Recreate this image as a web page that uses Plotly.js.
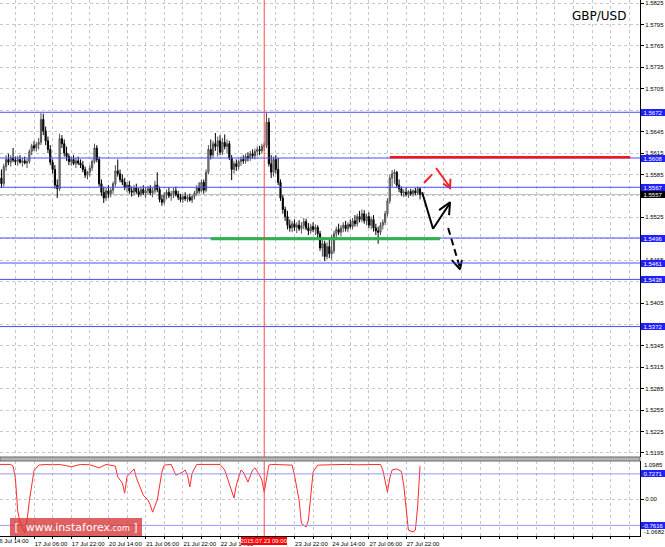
<!DOCTYPE html>
<html><head><meta charset="utf-8">
<script src="https://cdn.plot.ly/plotly-3.0.1.min.js"></script>
<style>html,body{margin:0;padding:0;background:#fff;}</style>
</head><body><div id="chart" style="width:665px;height:547px;"></div>
<script>
// ---- H1 candles, bar 0 = 16 Jul 14:00 ----
const opens = [
1.5575,1.5580,1.5572,1.5596,1.5606,1.5602,1.5608,1.5605,1.5603,1.5606,
1.5602,1.5604,1.5601,1.5603,1.5617,1.5625,1.5622,1.5627,1.5630,1.5662,
1.5646,1.5632,1.5620,1.5602,1.5592,1.5570,1.5565,1.5635,1.5628,1.5615,
1.5610,1.5603,1.5606,1.5600,1.5604,1.5601,1.5598,1.5592,1.5584,1.5588,
1.5594,1.5603,1.5622,1.5606,1.5572,1.5560,1.5552,1.5562,1.5558,1.5563,
1.5572,1.5590,1.5586,1.5578,1.5574,1.5567,1.5570,1.5562,1.5560,1.5566,
1.5561,1.5557,1.5564,1.5559,1.5562,1.5565,1.5559,1.5562,1.5570,1.5564,
1.5550,1.5546,1.5556,1.5560,1.5555,1.5558,1.5562,1.5557,1.5553,1.5550,
1.5554,1.5551,1.5553,1.5549,1.5554,1.5559,1.5566,1.5562,1.5574,1.5563,
1.5588,1.5620,1.5612,1.5628,1.5624,1.5632,1.5616,1.5630,1.5624,1.5628,
1.5608,1.5592,1.5600,1.5596,1.5603,1.5606,1.5604,1.5610,1.5608,1.5614,
1.5611,1.5617,1.5620,1.5618,1.5624,1.5626,1.5658,1.5600,1.5588,1.5606,
1.5592,1.5574,1.5552,1.5536,1.5526,1.5514,1.5510,1.5516,1.5511,1.5514,
1.5509,1.5513,1.5519,1.5510,1.5506,1.5512,1.5508,1.5511,1.5502,1.5482,
1.5488,1.5470,1.5484,1.5474,1.5478,1.5502,1.5508,1.5504,1.5510,1.5514,
1.5509,1.5515,1.5512,1.5520,1.5516,1.5526,1.5522,1.5530,1.5520,1.5526,
1.5514,1.5522,1.5510,1.5506,1.5504,1.5514,1.5518,1.5530,1.5548,1.5580,
1.5586,1.5588,1.5570,1.5565,1.5559,1.5560,1.5557,1.5561,1.5558,1.5562,
1.5559,1.5565];
const highs = [
1.5590,1.5592,1.5600,1.5612,1.5614,1.5612,1.5622,1.5610,1.5611,1.5612,
1.5608,1.5610,1.5607,1.5620,1.5628,1.5632,1.5630,1.5636,1.5671,1.5670,
1.5652,1.5638,1.5626,1.5606,1.5598,1.5578,1.5642,1.5640,1.5634,1.5624,
1.5614,1.5610,1.5612,1.5608,1.5610,1.5606,1.5604,1.5596,1.5590,1.5598,
1.5606,1.5628,1.5626,1.5610,1.5578,1.5568,1.5566,1.5570,1.5566,1.5575,
1.5598,1.5606,1.5592,1.5585,1.5580,1.5574,1.5576,1.5568,1.5570,1.5572,
1.5566,1.5568,1.5570,1.5567,1.5569,1.5570,1.5566,1.5576,1.5588,1.5568,
1.5556,1.5560,1.5564,1.5567,1.5562,1.5566,1.5568,1.5562,1.5558,1.5557,
1.5560,1.5556,1.5558,1.5556,1.5562,1.5570,1.5574,1.5578,1.5578,1.5592,
1.5626,1.5634,1.5632,1.5643,1.5638,1.5640,1.5636,1.5641,1.5634,1.5632,
1.5612,1.5604,1.5606,1.5606,1.5610,1.5612,1.5614,1.5616,1.5618,1.5620,
1.5621,1.5624,1.5625,1.5628,1.5630,1.5671,1.5664,1.5612,1.5610,1.5612,
1.5608,1.5578,1.5556,1.5540,1.5534,1.5522,1.5520,1.5522,1.5518,1.5521,
1.5518,1.5524,1.5523,1.5517,1.5516,1.5518,1.5515,1.5514,1.5506,1.5494,
1.5492,1.5490,1.5495,1.5500,1.5506,1.5512,1.5516,1.5514,1.5518,1.5520,
1.5518,1.5522,1.5524,1.5528,1.5530,1.5534,1.5536,1.5535,1.5530,1.5532,
1.5526,1.5528,1.5516,1.5512,1.5518,1.5522,1.5534,1.5552,1.5585,1.5591,
1.5592,1.5590,1.5578,1.5568,1.5564,1.5566,1.5563,1.5565,1.5564,1.5566,
1.5568,1.5567];
const lows = [
1.5565,1.5566,1.5568,1.5590,1.5598,1.5596,1.5602,1.5598,1.5597,1.5600,
1.5596,1.5599,1.5594,1.5600,1.5612,1.5618,1.5617,1.5620,1.5626,1.5640,
1.5626,1.5615,1.5598,1.5586,1.5565,1.5552,1.5562,1.5622,1.5610,1.5604,
1.5598,1.5597,1.5598,1.5594,1.5598,1.5594,1.5588,1.5580,1.5578,1.5582,
1.5590,1.5600,1.5602,1.5568,1.5555,1.5545,1.5548,1.5552,1.5553,1.5558,
1.5568,1.5582,1.5574,1.5570,1.5563,1.5560,1.5558,1.5554,1.5556,1.5558,
1.5553,1.5554,1.5556,1.5552,1.5557,1.5556,1.5553,1.5558,1.5560,1.5546,
1.5541,1.5543,1.5550,1.5552,1.5548,1.5552,1.5554,1.5549,1.5546,1.5545,
1.5548,1.5546,1.5547,1.5545,1.5550,1.5555,1.5558,1.5560,1.5558,1.5560,
1.5585,1.5606,1.5608,1.5618,1.5610,1.5612,1.5612,1.5620,1.5614,1.5605,
1.5577,1.5586,1.5590,1.5592,1.5597,1.5600,1.5600,1.5603,1.5604,1.5607,
1.5606,1.5611,1.5612,1.5614,1.5618,1.5622,1.5596,1.5580,1.5582,1.5586,
1.5570,1.5548,1.5530,1.5520,1.5508,1.5505,1.5504,1.5506,1.5503,1.5506,
1.5502,1.5508,1.5507,1.5500,1.5502,1.5504,1.5500,1.5496,1.5478,1.5470,
1.5464,1.5466,1.5468,1.5466,1.5474,1.5496,1.5500,1.5498,1.5504,1.5505,
1.5504,1.5509,1.5508,1.5512,1.5512,1.5518,1.5518,1.5516,1.5514,1.5510,
1.5508,1.5505,1.5500,1.5488,1.5500,1.5508,1.5514,1.5526,1.5544,1.5568,
1.5572,1.5566,1.5560,1.5555,1.5553,1.5554,1.5552,1.5555,1.5554,1.5556,
1.5556,1.5550];
const closes = [
1.5580,1.5572,1.5596,1.5606,1.5602,1.5608,1.5605,1.5603,1.5606,1.5602,
1.5604,1.5601,1.5603,1.5617,1.5625,1.5622,1.5627,1.5630,1.5662,1.5646,
1.5632,1.5620,1.5602,1.5592,1.5570,1.5565,1.5635,1.5628,1.5615,1.5610,
1.5603,1.5606,1.5600,1.5604,1.5601,1.5598,1.5592,1.5584,1.5588,1.5594,
1.5603,1.5622,1.5606,1.5572,1.5560,1.5552,1.5562,1.5558,1.5563,1.5572,
1.5590,1.5586,1.5578,1.5574,1.5567,1.5570,1.5562,1.5560,1.5566,1.5561,
1.5557,1.5564,1.5559,1.5562,1.5565,1.5559,1.5562,1.5570,1.5564,1.5550,
1.5546,1.5556,1.5560,1.5555,1.5558,1.5562,1.5557,1.5553,1.5550,1.5554,
1.5551,1.5553,1.5549,1.5554,1.5559,1.5566,1.5562,1.5574,1.5563,1.5588,
1.5620,1.5612,1.5628,1.5624,1.5632,1.5616,1.5630,1.5624,1.5628,1.5608,
1.5592,1.5600,1.5596,1.5603,1.5606,1.5604,1.5610,1.5608,1.5614,1.5611,
1.5617,1.5620,1.5618,1.5624,1.5626,1.5658,1.5600,1.5588,1.5606,1.5592,
1.5574,1.5552,1.5536,1.5526,1.5514,1.5510,1.5516,1.5511,1.5514,1.5509,
1.5513,1.5519,1.5510,1.5506,1.5512,1.5508,1.5511,1.5502,1.5482,1.5488,
1.5470,1.5484,1.5474,1.5478,1.5502,1.5508,1.5504,1.5510,1.5514,1.5509,
1.5515,1.5512,1.5520,1.5516,1.5526,1.5522,1.5530,1.5520,1.5526,1.5514,
1.5522,1.5510,1.5506,1.5504,1.5514,1.5518,1.5530,1.5548,1.5580,1.5586,
1.5588,1.5570,1.5565,1.5559,1.5560,1.5557,1.5561,1.5558,1.5562,1.5559,
1.5565,1.5557];

// indicator (lower pane)
const indicatorBars = [1,6,7,8,9,10,12,13,14,16,18,21,24,27,30,32,36,40,44,47,51,52,54,55,56,59,60,63,65,66,67,69,71,72,75,77,80,81,82,83,84,86,90,96,98,100,102,103,105,106,108,110,111,113,114,115,117,118,122,127,128,130,131,133,134,135,136,138,145,150,155,160,165,166,168,169,170,172,174,175,176,177,179,180,181,182];
const indicatorValues = [1.00,1.00,0.95,0.60,-0.35,-0.68,-0.98,-0.62,-0.05,0.82,0.98,1.00,0.99,1.00,0.96,0.93,1.00,0.99,0.90,1.00,0.95,0.64,0.46,0.17,0.65,0.87,0.62,0.11,-0.03,-0.17,-0.38,-0.03,0.78,0.98,1.00,0.69,0.78,0.84,0.69,0.35,0.75,1.00,1.00,1.00,0.84,0.40,0.03,0.40,0.84,0.78,0.49,0.84,0.90,0.69,0.55,0.20,0.98,1.00,0.99,0.98,0.69,-0.03,-0.70,-0.81,-0.61,0.11,0.78,0.98,1.00,1.00,0.99,1.00,1.00,0.84,0.20,0.61,0.84,0.87,0.80,0.40,-0.30,-0.90,-0.95,-0.90,-0.20,0.95];
const indicatorLevels = [0.7271, -0.7616];
const indicatorMax = 1.0985, indicatorMin = -1.0682;

// levels / labels
const levelPrices = [1.5672, 1.5608, 1.5567, 1.5496, 1.5461, 1.5438, 1.5372];
const bidPrice = 1.5557;
const priceTicks = [1.5195,1.5225,1.5255,1.5285,1.5315,1.5345,1.5375,1.5405,1.5435,1.5465,1.5495,1.5525,1.5555,1.5585,1.5615,1.5645,1.5675,1.5705,1.5735,1.5765,1.5795,1.5825];
const hiddenPriceTicks = [1.5435,1.5495,1.5555,1.5675]; // fully covered by level boxes
const timeLabelBars = [0,16,32,48,64,80,96,112,128,144,160,176];
const timeLabels = ["16 Jul 14:00","17 Jul 06:00","17 Jul 22:00","20 Jul 14:00","21 Jul 06:00","21 Jul 22:00","22 Jul 14:00","23 Jul 06:00","23 Jul 22:00","24 Jul 14:00","27 Jul 06:00","27 Jul 22:00"];
const hiddenTimeBars = [112]; // covered by the red time marker box
const markerBar = 115, markerLabel = "2015.07.23 09:00";
const redLineBars = [169, 272.4], redLinePrice = 1.5609;
const greenLineBars = [92, 190.6], greenLinePrice = 1.5495;
// hand-drawn forecast arrows
const redArrowX = [183.7,187.2,null,188.9,194.9], redArrowY = [1.5573,1.5585,null,1.5594,1.5567];
const redHeadX = [191.9,194.9,195.1], redHeadY = [1.5572,1.5566,1.5579];
const blackArrowX = [182.9,187.6,194.9], blackArrowY = [1.5560,1.5509,1.5545];
const blackHeadX = [190.2,194.9,194.5], blackHeadY = [1.5535,1.5546,1.5528];
const dashArrowX = [194.1,199.2], dashArrowY = [1.5510,1.5454];
const dashHeadX = [195.7,199.2,200.0], dashHeadY = [1.5465,1.5452,1.5465];

const barIndex = opens.map((_, k) => k + 1);
const gridBars = [];
for (let b = 0; b <= 272; b += 8) gridBars.push(b);
const gridText = gridBars.map(b => { const k = timeLabelBars.indexOf(b); return (k > 0 && !hiddenTimeBars.includes(b)) ? timeLabels[k] : ''; });

const FONT = 'Liberation Sans, Arial, sans-serif';
const GRID = '#c8c8c8';
const mainDomain = [0.1474, 1], indDomain = [0, 0.1399];

const noHover = {xaxis:'x', yaxis:'y', hoverinfo:'skip', showlegend:false};
const traces = [
  Object.assign({type:'candlestick', x: barIndex, open: opens, high: highs, low: lows, close: closes,
   increasing:{line:{color:'#505050', width:1}, fillcolor:'#a8a8a8'},
   decreasing:{line:{color:'#000000', width:1}, fillcolor:'#000000'}, whiskerwidth:0}, noHover),
  Object.assign({type:'scatter', mode:'lines', x: redArrowX, y: redArrowY, line:{color:'#ff2020', width:2}, connectgaps:false}, noHover),
  Object.assign({type:'scatter', mode:'lines', x: redHeadX, y: redHeadY, line:{color:'#ff2020', width:2}}, noHover),
  Object.assign({type:'scatter', mode:'lines', x: blackArrowX, y: blackArrowY, line:{color:'#000', width:2}}, noHover),
  Object.assign({type:'scatter', mode:'lines', x: blackHeadX, y: blackHeadY, line:{color:'#000', width:2}}, noHover),
  Object.assign({type:'scatter', mode:'lines', x: dashArrowX, y: dashArrowY, line:{color:'#000', width:2, dash:'7px,4px'}}, noHover),
  Object.assign({type:'scatter', mode:'lines', x: dashHeadX, y: dashHeadY, line:{color:'#000', width:2}}, noHover),
  {type:'scatter', mode:'lines', x: indicatorBars, y: indicatorValues, line:{color:'#ff2a2a', width:1}, xaxis:'x', yaxis:'y2', hoverinfo:'skip', showlegend:false}
];

const shapes = [];
shapes.push({type:'line', xref:'paper', x0:0, x1:1, yref:'y', y0:bidPrice, y1:bidPrice, line:{color:'#c0c0c0', width:1}, layer:'below'});
levelPrices.forEach(p => shapes.push({type:'line', xref:'paper', x0:0, x1:1, yref:'y', y0:p, y1:p, line:{color:'#4a4aff', width:1}, layer:'above'}));
shapes.push({type:'line', xref:'x', x0:greenLineBars[0], x1:greenLineBars[1], yref:'y', y0:greenLinePrice, y1:greenLinePrice, line:{color:'#2db34a', width:3}, layer:'above'});
shapes.push({type:'line', xref:'x', x0:redLineBars[0], x1:redLineBars[1], yref:'y', y0:redLinePrice, y1:redLinePrice, line:{color:'#f01818', width:2.5}, layer:'above'});
indicatorLevels.forEach(v => shapes.push({type:'line', xref:'paper', x0:0, x1:1, yref:'y2', y0:v, y1:v, line:{color:'#9a9af0', width:1}, layer:'above'}));
shapes.push({type:'line', xref:'x', x0:markerBar, x1:markerBar, yref:'paper', y0:mainDomain[0], y1:1, line:{color:'#ff4a4a', width:1}, layer:'above'});
shapes.push({type:'line', xref:'x', x0:markerBar, x1:markerBar, yref:'paper', y0:0, y1:indDomain[1], line:{color:'#ff4a4a', width:1}, layer:'above'});
shapes.push({type:'rect', xref:'paper', x0:0, x1:1, yref:'paper', y0:indDomain[1], y1:mainDomain[0], fillcolor:'#b4b4b4', line:{color:'#6a6a6a', width:1}, layer:'above'});

const annotations = [];
annotations.push({xref:'paper', yref:'paper', x:0.936, y:0.970, text:'GBP/USD', showarrow:false, font:{family:'DejaVu Sans, sans-serif', size:12, color:'#000'}, xanchor:'center', yanchor:'middle'});
function boxLabel(val, yref, bg, txt) {
  return {xref:'paper', x:1, xanchor:'left', xshift:1, yref:yref, y:val, yanchor:'middle', text:txt, showarrow:false,
    bgcolor:bg, font:{family:FONT, size:6, color:'#fff'}, borderpad:0, borderwidth:0, width:24, height:7};
}
levelPrices.forEach(p => annotations.push(boxLabel(p, 'y', '#1f1fff', p.toFixed(4))));
annotations.push(boxLabel(bidPrice, 'y', '#000000', bidPrice.toFixed(4)));
indicatorLevels.forEach(v => annotations.push(boxLabel(v, 'y2', '#1f1fff', v.toFixed(4))));
annotations.push({xref:'paper', x:1, xanchor:'left', xshift:3, yref:'y2', y:indicatorMax, yanchor:'top', text:indicatorMax.toFixed(4), showarrow:false, font:{family:FONT, size:6, color:'#000'}, borderpad:0});
annotations.push({xref:'paper', x:1, xanchor:'left', xshift:3, yref:'y2', y:indicatorMin, yanchor:'bottom', text:indicatorMin.toFixed(4), showarrow:false, font:{family:FONT, size:6, color:'#000'}, borderpad:0});
// first time label sits left of the visible range (partly cut in the reference)
annotations.push({xref:'paper', x:0, xanchor:'left', xshift:-5, yref:'paper', y:0, yanchor:'top', yshift:-1, text:timeLabels[0], showarrow:false, font:{family:FONT, size:6, color:'#000'}, borderpad:0});
annotations.push({xref:'x', x:markerBar, xanchor:'center', yref:'paper', y:0, yanchor:'top', yshift:-1, text:markerLabel, showarrow:false, bgcolor:'#ff0000', font:{family:FONT, size:6, color:'#fff'}, borderpad:0, borderwidth:0, width:46, height:8});
annotations.push({xref:'paper', x:10/640, xanchor:'left', yref:'paper', y:0, yanchor:'bottom', showarrow:false,
  text:"[  www.instaforex<span style='font-size:8px'>.com</span> ]", bgcolor:'rgba(214,52,52,0.78)',
  font:{family:'DejaVu Sans, sans-serif', size:11, color:'#fff'}, borderpad:0, borderwidth:0, width:132, height:18, align:'center'});

const layout = {
  width:665, height:547, margin:{l:0, r:25, t:0, b:11, pad:0},
  paper_bgcolor:'#fff', plot_bgcolor:'#fff', showlegend:false,
  font:{family:FONT, size:6, color:'#000'},
  xaxis:{range:[1.376, 276.6], anchor:'y2', tickmode:'array', tickvals:gridBars, ticktext:gridText, ticks:'outside', ticklen:2, tickcolor:'#000',
    showline:true, linecolor:'#000', linewidth:1, showgrid:true, gridcolor:GRID, griddash:'3px,3px', zeroline:false,
    tickfont:{family:FONT, size:6, color:'#000'}, ticklabelshift:17, tickangle:0, rangeslider:{visible:false}, fixedrange:true},
  yaxis:{domain:mainDomain, range:[1.51894, 1.58292], side:'right', anchor:'x', tickmode:'array', tickvals:priceTicks,
    ticktext:priceTicks.map(v => hiddenPriceTicks.includes(v) ? '' : v.toFixed(4)),
    ticks:'outside', ticklen:3, tickcolor:'#000', showline:true, linecolor:'#000', linewidth:1, showgrid:true, gridcolor:GRID, griddash:'3px,3px',
    zeroline:false, tickfont:{family:FONT, size:6, color:'#000'}, fixedrange:true},
  yaxis2:{domain:indDomain, range:[indicatorMin, indicatorMax], side:'right', anchor:'x', tickmode:'array', tickvals:[0], ticktext:['0.00'],
    ticks:'outside', ticklen:3, tickcolor:'#000', showline:true, linecolor:'#000', linewidth:1, showgrid:true, gridcolor:GRID, griddash:'3px,3px',
    zeroline:false, tickfont:{family:FONT, size:6, color:'#000'}, fixedrange:true},
  shapes: shapes, annotations: annotations
};
Plotly.newPlot('chart', traces, layout, {displayModeBar:false, staticPlot:true});
</script></body></html>
